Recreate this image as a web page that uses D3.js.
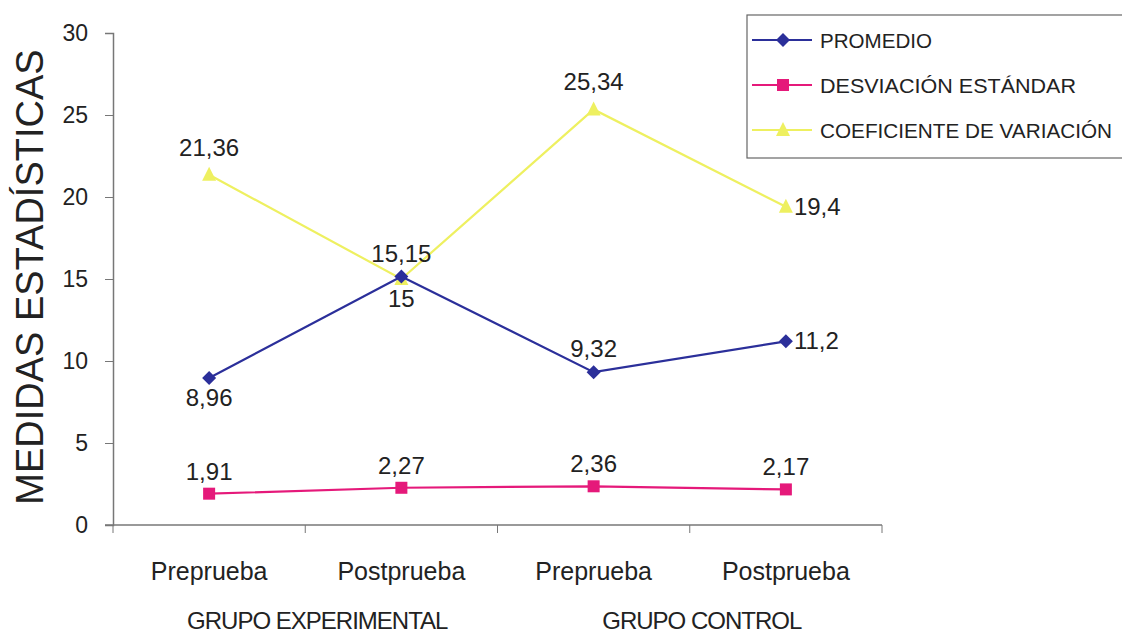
<!DOCTYPE html>
<html>
<head>
<meta charset="utf-8">
<script src="https://cdnjs.cloudflare.com/ajax/libs/d3/7.8.5/d3.min.js"></script>
<style>
  html, body { margin: 0; padding: 0; background: #fff; }
  svg { display: block; font-family: Arial, "Liberation Sans", sans-serif; }
</style>
</head>
<body>
<svg id="chart" width="1122" height="636"></svg>
<script>
// Categories and groups
const categories = ["Preprueba", "Postprueba", "Preprueba ", "Postprueba "];
const categoryLabels = ["Preprueba", "Postprueba", "Preprueba", "Postprueba"];
const groups = ["GRUPO EXPERIMENTAL", "GRUPO CONTROL"];

// Series values
const promedio = [8.96, 15.15, 9.32, 11.2];
const desviacion = [1.91, 2.27, 2.36, 2.17];
const coeficiente = [21.36, 15, 25.34, 19.4];

const seriesNames = ["PROMEDIO", "DESVIACIÓN ESTÁNDAR", "COEFICIENTE DE VARIACIÓN"];
const yTicks = [0, 5, 10, 15, 20, 25, 30];

// label placement per point: "above", "below", "right"
const promedioPos = ["below", "above", "above", "right"];
const desviacionPos = ["above", "above", "above", "above"];
const coeficientePos = ["above", "below", "above", "right"];

const series = [
  { name: seriesNames[0], values: promedio, pos: promedioPos, color: "#2b2f9a", marker: "diamond", up: 15 },
  { name: seriesNames[1], values: desviacion, pos: desviacionPos, color: "#e5197a", marker: "square", up: 14 },
  { name: seriesNames[2], values: coeficiente, pos: coeficientePos, color: "#eef060", marker: "triangle", up: 19 }
];

const svg = d3.select("#chart");
const plot = { left: 113, right: 882, top: 33, bottom: 525 };

const x = d3.scaleBand().domain(categories).range([plot.left, plot.right]).padding(0);
const y = d3.scaleLinear().domain([0, 30]).range([plot.bottom, plot.top]);
const fmt = v => String(v).replace(".", ",");

// Y axis
const yAxis = d3.axisLeft(y).tickValues(yTicks).tickSize(8).tickPadding(17);
const gy = svg.append("g").attr("transform", `translate(${plot.left},0)`).call(yAxis);
gy.select(".domain").attr("stroke", "#777").attr("stroke-width", 1.5);
gy.selectAll(".tick line").attr("stroke", "#777");
gy.selectAll(".tick text").attr("font-size", 23).attr("fill", "#222")
  .attr("font-family", "Arial, 'Liberation Sans', sans-serif");

// X axis: ticks at category boundaries
const gx = svg.append("g").attr("transform", `translate(0,${plot.bottom})`);
gx.append("line").attr("x1", plot.left - 8).attr("x2", plot.right).attr("y1", 0).attr("y2", 0)
  .attr("stroke", "#777").attr("stroke-width", 1.5);
const bounds = categories.map(c => x(c)).concat([plot.right]);
gx.selectAll("line.tk").data(bounds).join("line").attr("class", "tk")
  .attr("x1", d => d).attr("x2", d => d).attr("y1", 0).attr("y2", 8)
  .attr("stroke", "#777");
gx.selectAll("text.cat").data(categories).join("text").attr("class", "cat")
  .attr("x", d => x(d) + x.bandwidth() / 2).attr("y", 55)
  .attr("text-anchor", "middle").attr("font-size", 25).attr("fill", "#222")
  .text((d, i) => categoryLabels[i]);
gx.selectAll("text.grp").data(groups).join("text").attr("class", "grp")
  .attr("x", (d, i) => x(categories[i * 2 + 1]) + 12)
  .attr("y", 104).attr("text-anchor", "middle").attr("font-size", 24)
  .attr("letter-spacing", -1).attr("fill", "#222").text(d => d);

// Y axis title
svg.append("text")
  .attr("transform", `translate(43,${277}) rotate(-90)`)
  .attr("text-anchor", "middle").attr("font-size", 38)
  .attr("fill", "#222").text("MEDIDAS ESTADÍSTICAS");

// Markers
function drawMarker(g, type, color, cx, cy) {
  if (type === "diamond") {
    g.append("path").attr("d", `M${cx},${cy - 7}L${cx + 7},${cy}L${cx},${cy + 7}L${cx - 7},${cy}Z`).attr("fill", color);
  } else if (type === "square") {
    g.append("rect").attr("x", cx - 6).attr("y", cy - 6).attr("width", 12).attr("height", 12).attr("fill", color);
  } else {
    g.append("path").attr("d", `M${cx},${cy - 8}L${cx + 7},${cy + 6}L${cx - 7},${cy + 6}Z`).attr("fill", color);
  }
}

const cx = c => x(c) + x.bandwidth() / 2;
const line = d3.line().x((d, i) => cx(categories[i])).y(d => y(d));

// Draw coefficient first so the mean line sits on top of it
[series[2], series[1], series[0]].forEach(s => {
  const g = svg.append("g");
  g.append("path").datum(s.values).attr("d", line)
    .attr("fill", "none").attr("stroke", s.color).attr("stroke-width", 2.2);
  s.values.forEach((v, i) => drawMarker(g, s.marker, s.color, cx(categories[i]), y(v)));
});

// Data labels
series.forEach(s => {
  s.values.forEach((v, i) => {
    const px = cx(categories[i]), py = y(v);
    let tx = px, ty = py, anchor = "middle";
    if (s.pos[i] === "above") ty = py - s.up;
    else if (s.pos[i] === "below") ty = py + 28;
    else { tx = px + 8; ty = py + 8; anchor = "start"; }
    svg.append("text").attr("x", tx).attr("y", ty).attr("text-anchor", anchor)
      .attr("font-size", 24).attr("fill", "#222").text(fmt(v));
  });
});

// Legend
const lg = svg.append("g");
lg.append("rect").attr("x", 747).attr("y", 15).attr("width", 380).attr("height", 143)
  .attr("fill", "#fff").attr("stroke", "#666").attr("stroke-width", 1.2);
const legendWidths = [112, 256, 292];
series.forEach((s, i) => {
  const ly = 40 + i * 45;
  lg.append("line").attr("x1", 752).attr("x2", 812).attr("y1", ly).attr("y2", ly)
    .attr("stroke", s.color).attr("stroke-width", 2.2);
  drawMarker(lg, s.marker, s.color, 783, ly);
  lg.append("text").attr("x", 820).attr("y", ly + 8).attr("font-size", 20)
    .attr("textLength", legendWidths[i]).attr("lengthAdjust", "spacingAndGlyphs")
    .attr("fill", "#222").text(s.name);
});
</script>
</body>
</html>
